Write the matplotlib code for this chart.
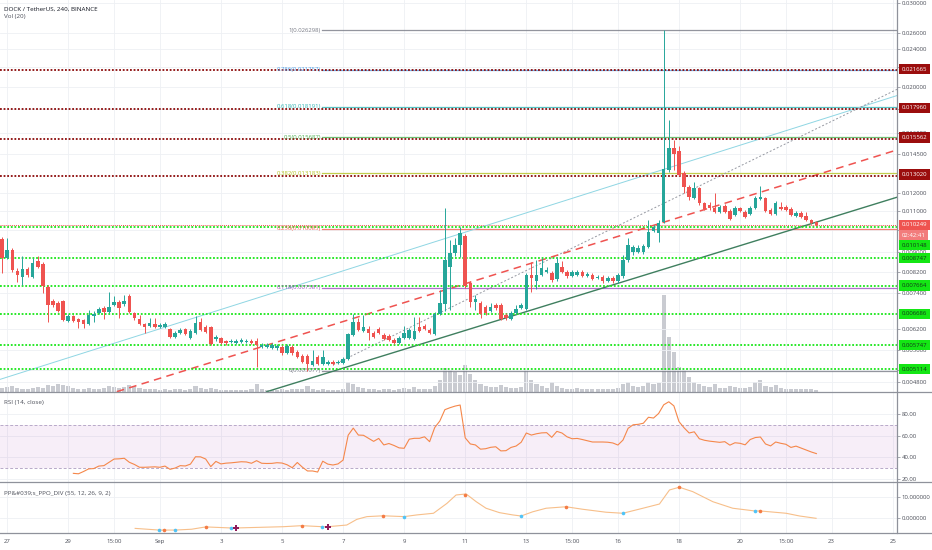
import numpy as np
import matplotlib.pyplot as plt
from matplotlib.lines import Line2D
from matplotlib.ticker import FixedLocator, FuncFormatter, NullLocator

plt.rcParams['font.family'] = ['Open Sans', 'DejaVu Sans']

# DOCK / USDT, 4h candles. prices in micro-USDT (1e-6), first bar = Aug 26 20:00
first_bar = -1
opens_u = [
    9596, 8754, 9098, 8221, 7986, 8301, 7986, 8628, 8504, 7610,
    7112, 7044, 7112, 6457, 6615, 6520, 6488, 6364, 6615, 6712,
    6876, 6744, 6976, 7078, 7010, 7286, 6712, 6520, 6364, 6303,
    6364, 6273, 6273, 6212, 5976, 6093, 6212, 5948, 6093, 6426,
    6273, 6273, 5919, 5948, 5862, 5834, 5806, 5834, 5834, 5862,
    5862, 5695, 5695, 5668, 5668, 5695, 5533, 5695, 5560, 5453,
    5453, 5220, 5427, 5246, 5246, 5297, 5271, 5271, 5374, 6034,
    6426, 6152, 6212, 6093, 6212, 6034, 6005, 5890, 5806, 5948,
    5948, 5919, 6273, 6303, 6182, 6064, 6679, 7010, 8382, 8968,
    9321, 9735, 7758, 7078, 7044, 6909, 6777, 6976, 6976, 6647,
    6520, 6712, 6876, 6842, 8063, 7833, 8063, 8182, 8142, 7910,
    8382, 8182, 8025, 8063, 8182, 8025, 8063, 7948, 7986, 7833,
    7948, 7833, 8025, 8669, 9011, 9011, 9011, 9232, 9973, 9877,
    10417, 13391, 14893, 14679, 13199, 12336, 11697, 12277, 11418, 11308,
    11146, 10932, 11254, 10985, 10774, 11146, 10932, 10827, 11146, 11641,
    11697, 11038, 10827, 11200, 11200, 11092, 10723, 10880, 10723, 10517,
    10417]
highs_u = [
    9689, 9642, 9187, 8342, 8839, 8382, 8754, 8839, 8587, 7683,
    7181, 7112, 7146, 6679, 6647, 6551, 6520, 6809, 6777, 6909,
    6943, 7428, 7286, 7146, 7321, 7357, 6744, 6647, 6395, 6551,
    6551, 6395, 6426, 6242, 6152, 6242, 6242, 6212, 6615, 6551,
    6333, 6303, 6034, 5976, 5890, 5919, 5919, 5948, 5919, 5919,
    5948, 5806, 5806, 5806, 5778, 5750, 5778, 5750, 5613, 5506,
    5506, 5613, 5479, 5613, 5348, 5348, 5348, 5427, 6093, 6679,
    6551, 6647, 6303, 6152, 6273, 6093, 6064, 5948, 6005, 6303,
    6242, 6583, 6583, 6364, 6242, 6744, 7500, 11146, 9549, 9642,
    10168, 9830, 7833, 7321, 7112, 6976, 7044, 7044, 7044, 6712,
    6777, 6976, 7044, 8142, 8587, 8669, 8754, 8382, 8221, 8796,
    8628, 8261, 8261, 8261, 8261, 8182, 8142, 8063, 8063, 8025,
    8025, 8142, 8881, 9642, 9321, 9321, 9367, 10517, 10266, 10517,
    26298, 17052, 15479, 15038, 13327, 12455, 12637, 12336, 11473, 11473,
    11983, 11308, 11363, 11092, 11254, 11200, 11038, 11254, 11810, 12396,
    11754, 11146, 11529, 11473, 11308, 11200, 10985, 10985, 10932, 10568,
    10467]
lows_u = [
    8142, 8711, 8182, 7796, 7683, 7986, 7948, 8342, 7393, 6426,
    6909, 6744, 6457, 6426, 6426, 6242, 6242, 6333, 6426, 6679,
    6520, 6712, 6943, 6551, 6943, 6712, 6488, 6333, 6093, 6273,
    6242, 6242, 6242, 5948, 5948, 6064, 6034, 5919, 6064, 6152,
    6093, 5750, 5862, 5778, 5750, 5806, 5778, 5806, 5806, 5778,
    5170, 5668, 5668, 5640, 5613, 5479, 5506, 5479, 5400, 5271,
    5077, 5195, 5220, 5220, 5220, 5220, 5246, 5246, 5348, 6005,
    6152, 6123, 5890, 5948, 6064, 5890, 5862, 5778, 5778, 5919,
    5919, 5890, 6123, 6182, 6064, 6034, 6647, 6777, 6809, 8839,
    8796, 7573, 6909, 6809, 6551, 6647, 6744, 6809, 6488, 6488,
    6488, 6679, 6842, 6809, 7428, 7537, 8025, 8142, 7796, 7833,
    8142, 7948, 7986, 8025, 7986, 7986, 7871, 7910, 7758, 7796,
    7758, 7758, 7948, 8587, 8881, 8968, 8924, 9187, 9925, 9458,
    10366, 13263, 13391, 13008, 11983, 11584, 11641, 11308, 11038, 11038,
    10880, 10880, 10880, 10517, 10723, 10932, 10620, 10774, 11092, 11584,
    10932, 10774, 10774, 11038, 10985, 10723, 10671, 10620, 10467, 10316,
    10216]
closes_u = [
    8754, 9098, 8261, 8063, 8301, 8063, 8545, 8382, 7646, 6976,
    6976, 6777, 6488, 6615, 6457, 6426, 6364, 6647, 6679, 6842,
    6744, 6909, 7078, 6876, 7112, 6744, 6551, 6364, 6273, 6395,
    6273, 6333, 6364, 5976, 6093, 6182, 6064, 6152, 6395, 6182,
    6123, 5778, 5976, 5806, 5806, 5862, 5862, 5890, 5862, 5806,
    5750, 5750, 5750, 5750, 5723, 5533, 5723, 5533, 5427, 5297,
    5246, 5322, 5246, 5427, 5297, 5246, 5297, 5374, 6064, 6426,
    6182, 6273, 6093, 5976, 6093, 5919, 5890, 5806, 5948, 6093,
    6182, 6152, 6152, 6212, 6093, 6679, 7044, 8669, 8968, 9321,
    9878, 7646, 7078, 7181, 6679, 6712, 6909, 6876, 6520, 6551,
    6712, 6842, 6976, 8063, 7948, 8063, 8342, 8261, 7871, 8545,
    8182, 8025, 8182, 8182, 8025, 8103, 7910, 7986, 7833, 7948,
    7833, 8063, 8669, 9321, 9232, 9187, 9276, 9925, 10168, 10366,
    13456, 14893, 14467, 13071, 12336, 11754, 12277, 11418, 11092, 11146,
    10932, 11200, 10932, 10568, 11146, 10985, 10671, 11146, 11697, 11754,
    10985, 10827, 11418, 11092, 11038, 10774, 10880, 10671, 10517, 10366,
    10249]
# volume, thousands DOCK
volume_k = [
    4, 5, 6, 4, 3, 3, 4, 5, 4, 7,
    6, 8, 7, 6, 4, 3, 3, 4, 3, 3,
    4, 6, 5, 4, 5, 7, 6, 4, 3, 3,
    3, 2, 3, 2, 3, 3, 2, 3, 6, 4,
    3, 4, 3, 2, 2, 2, 2, 2, 2, 3,
    8, 3, 2, 2, 2, 3, 2, 3, 3, 3,
    6, 3, 2, 3, 2, 2, 2, 3, 10, 8,
    5, 4, 3, 3, 2, 3, 3, 2, 3, 4,
    3, 5, 3, 3, 3, 6, 12, 24, 22, 20,
    17, 27, 18, 12, 8, 6, 5, 5, 7, 5,
    4, 4, 5, 22, 12, 8, 6, 4, 10, 6,
    4, 3, 3, 4, 3, 3, 3, 3, 3, 3,
    3, 4, 8, 10, 6, 5, 6, 10, 8, 9,
    97, 55, 40, 25, 22, 15, 10, 8, 6, 5,
    8, 4, 4, 6, 5, 4, 4, 5, 10, 12,
    6, 5, 7, 4, 3, 3, 3, 3, 3, 3,
    2]

# RSI(14) from bar 13
rsi_first_bar = 13
rsi = [
    25.3, 24.9, 27.0, 29.4, 29.7, 32.0, 32.4, 35.5, 38.5, 38.7,
    39.2, 35.5, 33.5, 30.9, 30.9, 31.1, 31.3, 30.9, 32.0, 29.0,
    30.2, 32.4, 32.1, 33.8, 40.6, 40.5, 38.5, 31.5, 36.3, 34.0,
    34.7, 35.0, 35.5, 36.0, 35.8, 34.6, 37.0, 34.6, 34.4, 34.5,
    35.1, 34.8, 33.2, 30.5, 35.3, 31.0, 27.5, 27.5, 26.5, 36.5,
    33.8, 33.0, 34.0, 37.5, 60.5, 67.0, 60.6, 60.4, 57.6, 54.8,
    57.5, 51.5, 52.8, 51.0, 48.8, 48.4, 56.8, 57.6, 57.6, 59.0,
    54.5, 67.5, 73.5, 84.0, 85.8, 87.3, 88.3, 58.0, 52.4, 51.5,
    47.6, 48.0, 49.3, 49.8, 46.0, 46.2, 49.2, 50.5, 54.0, 62.5,
    60.6, 61.8, 62.6, 62.8, 58.5, 64.0, 62.5, 59.0, 57.2, 57.5,
    56.5, 55.3, 54.2, 54.2, 54.2, 54.0, 53.3, 51.4, 56.0, 66.8,
    70.1, 70.5, 71.5, 77.0, 76.3, 80.5, 88.5, 91.3, 87.5, 73.0,
    67.3, 62.5, 63.6, 57.2, 55.8, 55.0, 54.5, 53.9, 54.5, 51.3,
    53.5, 53.0, 51.6, 56.5, 58.3, 58.8, 52.4, 50.6, 54.2, 53.0,
    52.1, 49.2, 50.4, 48.6, 46.8, 45.0, 43.5]

# PPO line (day since Aug 27, value)
ppo_day = [4.19, 4.98, 5.50, 6.04, 6.50, 7.33, 7.49, 9.04, 9.65, 10.32, 10.50, 11.12,
           11.45, 11.78, 12.32, 13.00, 13.41, 13.96, 14.40, 14.70, 15.03, 15.36, 15.68,
           16.12, 16.56, 16.83, 17.21, 17.65, 18.30, 18.85, 19.61, 20.16, 20.82, 21.36,
           21.69, 22.01, 22.45, 23.11, 23.76, 24.48, 24.66, 25.51, 25.95, 26.49]
ppo_val = [-4.8, -5.6, -5.6, -5.2, -4.1, -4.6, -4.6, -4.0, -3.5, -4.0, -4.0, -3.2,
           -0.5, 0.8, 1.2, 0.8, 1.6, 2.4, 7.1, 11.1, 11.6, 7.9, 4.8,
           2.7, 1.6, 1.1, 3.1, 4.8, 5.5, 4.3, 2.9, 2.4, 4.8, 6.8,
           13.5, 14.8, 12.7, 7.9, 4.8, 3.5, 3.5, 2.4, 1.1, 0.0]
ppo_low_day = [4.98, 5.50, 7.33, 10.32, 13.00, 16.83, 20.16, 24.48]
ppo_low_val = [-5.6, -5.6, -4.6, -4.0, 0.8, 1.1, 2.4, 3.5]
ppo_high_day = [5.15, 6.50, 9.65, 12.32, 15.00, 18.30, 22.01, 24.66]
ppo_high_val = [-5.6, -4.1, -3.5, 1.2, 11.3, 5.5, 14.8, 3.5]
ppo_div_day = [7.49, 10.50]
ppo_div_val = [-4.6, -4.0]

# fib retracement
fib_levels = ['1', '0.786', '0.618', '0.5', '0.382', '0.236', '0.118', '0']
fib_prices = [0.026298, 0.021757, 0.018191, 0.015687, 0.013183, 0.010085, 0.007581, 0.005077]
fib_colors = ['#787b86', '#4f9fe8', '#2fb5b5', '#4caf50', '#b3c221', '#f0604f', '#9c4fc0', '#787b86']
fib_start = 10.31

resist_levels = [0.021665, 0.017960, 0.015562, 0.013020]
support_levels = [0.010148, 0.008747, 0.007664, 0.006686, 0.005747, 0.005114]
last_price = 0.010249

xticks = [0, 2, 3.5, 5, 7, 9, 11, 13, 15, 17, 18.5, 20, 22, 24, 25.5, 27, 29]
xlabels = ['27', '29', '15:00', 'Sep', '3', '5', '7', '9', '11', '13', '15:00',
           '16', '18', '20', '15:00', '23', '25']
price_ticks = [0.0048, 0.0051, 0.0056, 0.0062, 0.0074, 0.0082, 0.0090, 0.0100,
               0.0110, 0.0120, 0.0145, 0.0160, 0.0180, 0.0200, 0.0220, 0.0240,
               0.0260, 0.0300]

W, H = 932, 550
XMIN, XMAX = -0.236, 29.14
GRID = '#eef0f4'
TXT = '#4c4f59'
FS = 4.3


def fy(py):
    return 1 - py / H


fig = plt.figure(figsize=(W / 100, H / 100), dpi=100)
fig.patch.set_facecolor('white')
pw = 897 / W
ax = fig.add_axes([0, fy(392), pw, 392 / H])
ax_r = fig.add_axes([0, fy(481.7), pw, 89.7 / H])
ax_p = fig.add_axes([0, fy(533.3), pw, 51.6 / H])

# volume behind candles (twinx moves ax ticks to the left, so set sides afterwards)
ax_v = ax.twinx()

o = np.array(opens_u) * 1e-6
h = np.array(highs_u) * 1e-6
l = np.array(lows_u) * 1e-6
c = np.array(closes_u) * 1e-6
x = (np.arange(len(c)) + first_bar) / 6.0
up = c >= o
col = np.where(up, '#26a69a', '#ef5350')

for a in (ax, ax_r, ax_p):
    a.set_xlim(XMIN, XMAX)
    for s in a.spines.values():
        s.set_visible(False)
    a.xaxis.set_major_locator(FixedLocator(xticks))
    a.grid(True, color=GRID, lw=0.6, zorder=0)
    a.set_axisbelow(True)
    a.yaxis.tick_right()
    a.tick_params(axis='y', which='both', left=False, labelleft=False, right=True,
                  labelright=True, labelsize=FS, colors='#9598a1', labelcolor=TXT,
                  length=2, width=0.6, pad=1.5)
    a.tick_params(axis='x', length=0)
    a.patch.set_visible(False)

ax_v.bar(x, volume_k, width=0.8 / 6, color='#c9cbd1', lw=0, zorder=1)
ax_v.set_ylim(0, max(volume_k) * 392 / 97)
ax_v.axis('off')
ax_v.set_zorder(0)
ax.set_zorder(1)

ax.set_yscale('log')
ax.set_ylim(0.004582, 0.03045)
ax.yaxis.set_major_locator(FixedLocator(price_ticks))
ax.yaxis.set_minor_locator(NullLocator())
ax.yaxis.set_major_formatter(FuncFormatter(lambda v, p: f'{v:.6f}'))
ax.set_xticklabels([])

# horizontal levels
ax.axhline(last_price, color='#ef5350', lw=0.7, ls=(0, (1, 1)), zorder=2)
for lv in resist_levels:
    ax.axhline(lv, color='#8b0a0a', lw=1.3, ls=(0, (1, 1)), zorder=3)
for lv in support_levels:
    ax.axhline(lv, color='#19e619', lw=1.3, ls=(0, (1, 1)), zorder=3)

for lv, pr, fc in zip(fib_levels, fib_prices, fib_colors):
    ax.plot([fib_start, XMAX], [pr, pr], color=fc, lw=0.9, alpha=0.8, zorder=2)
    ax.text(fib_start - 0.03, pr, f'{lv}({pr:.6f})', color=fc, fontsize=FS,
            ha='right', va='center', zorder=4)

# trend lines
ax.plot([XMIN, XMAX], [0.00487, 0.019189], color='#8fd6e3', lw=0.7, zorder=2)
ax.plot([10.67, XMAX], [0.005221, 0.019774], color='#9598a1', lw=0.7,
        ls=(0, (2, 2)), zorder=2)
ax.plot([3.587, XMAX], [0.004589, 0.014757], color='#ef5350', lw=1.1,
        ls=(0, (5, 3.5)), zorder=2)
ax.plot([8.50, XMAX], [0.004589, 0.011742], color='#3f7f5f', lw=1.0, zorder=2)

# candles
ax.vlines(x, l, h, colors=col, lw=0.7, zorder=5)
body = np.maximum(np.abs(c - o), np.minimum(o, c) * 0.004)
ax.bar(x, body, bottom=np.minimum(o, c), width=0.7 / 6, color=col, lw=0, zorder=6)


# price scale labels
def tag(price, text, fc, tc, dy=0):
    ax.annotate(text, xy=(1, price), xycoords=('axes fraction', 'data'),
                xytext=(3.3, dy), textcoords='offset points', ha='left', va='center',
                fontsize=FS, color=tc, annotation_clip=False, zorder=10,
                bbox=dict(boxstyle='square,pad=0.45', fc=fc, ec='none'))


for lv in resist_levels:
    tag(lv, f'{lv:.6f}', '#9b0d0d', 'white', dy=1.0)
tag(last_price, f'{last_price:.6f}', '#ef5350', 'white', dy=0.4)
tag(last_price, '02:42:41', '#f27c7c', 'white', dy=-7.4)
tag(support_levels[0], f'{support_levels[0]:.6f}', '#14e614', '#13361a', dy=-12.7)
for lv in support_levels[1:]:
    tag(lv, f'{lv:.6f}', '#14e614', '#13361a')

# RSI
xr = (np.arange(len(rsi)) + rsi_first_bar) / 6.0
ax_r.set_ylim(17.6, 100.3)
ax_r.axhspan(30, 70, color='#9c27b0', alpha=0.08, lw=0, zorder=1)
for lv in (30, 70):
    ax_r.axhline(lv, color='#b8a9c9', lw=0.7, ls=(0, (3, 2)), zorder=2)
ax_r.plot(xr, rsi, color='#f5874a', lw=0.8, zorder=3)
ax_r.yaxis.set_major_locator(FixedLocator([20, 40, 60, 80]))
ax_r.yaxis.set_major_formatter(FuncFormatter(lambda v, p: f'{v:.2f}'))
ax_r.set_xticklabels([])

# PPO divergence
ax_p.set_ylim(-7.14, 17.43)
ax_p.plot(ppo_day, ppo_val, color='#f7bf8a', lw=0.8, zorder=2)
ax_p.plot(ppo_low_day, ppo_low_val, 'o', color='#4fc3f7', ms=2.6, mew=0, zorder=3)
ax_p.plot(ppo_high_day, ppo_high_val, 'o', color='#f47b44', ms=2.6, mew=0, zorder=3)
ax_p.plot(ppo_div_day, ppo_div_val, 'P', color='#8e1a5a', ms=5, mew=0, zorder=4)
ax_p.yaxis.set_major_locator(FixedLocator([0, 10, 20]))
ax_p.yaxis.set_major_formatter(FuncFormatter(lambda v, p: f'{v:.6f}'))
ax_p.set_xticklabels(xlabels)
ax_p.tick_params(axis='x', labelsize=FS, labelcolor=TXT, pad=4)

# panel frames
sep = '#8f929b'
for py in (392, 481.7, 533.3):
    fig.add_artist(Line2D([0, 1], [fy(py), fy(py)], transform=fig.transFigure,
                          color=sep, lw=0.9))
fig.add_artist(Line2D([pw, pw], [fy(533.3), 1], transform=fig.transFigure,
                      color=sep, lw=0.9))

# legends
fig.text(4 / W, fy(9.3), 'DOCK / TetherUS, 240, BINANCE', fontsize=4.5,
         color='#131722', va='center')
fig.text(4 / W, fy(16.9), 'Vol (20)', fontsize=4.5, color=TXT, va='center')
fig.text(4 / W, fy(402.3), 'RSI (14, close)', fontsize=4.5, color=TXT, va='center')
fig.text(4 / W, fy(493.3), 'PP&#039;s_PPO_DIV (55, 12, 26, 9, 2)', fontsize=4.5,
         color=TXT, va='center')

fig.savefig('out.png', dpi=100, facecolor='white')
